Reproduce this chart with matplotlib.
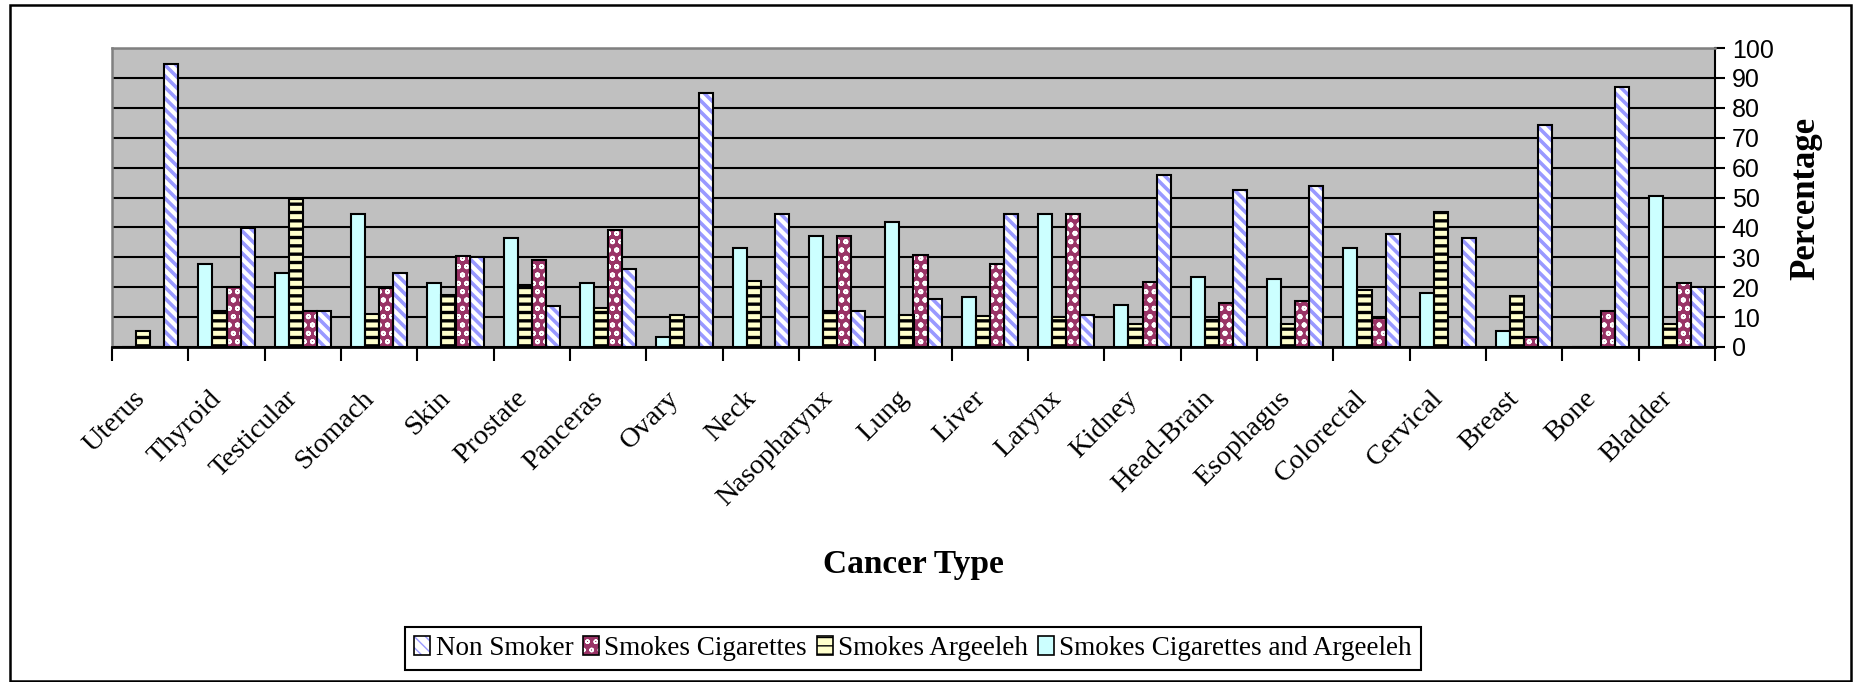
import matplotlib
matplotlib.use("Agg")
import matplotlib.pyplot as plt
import numpy as np
from matplotlib.patches import Patch, Rectangle
from matplotlib.legend_handler import HandlerTuple

# ---- data (percent of patients in each smoking group, by cancer type) ----
categories = ["Uterus", "Thyroid", "Testicular", "Stomach", "Skin", "Prostate",
              "Panceras", "Ovary", "Neck", "Nasopharynx", "Lung", "Liver",
              "Larynx", "Kidney", "Head-Brain", "Esophagus", "Colorectal",
              "Cervical", "Breast", "Bone", "Bladder"]

cig_and_argeeleh = [0, 27.6, 24.8, 44.6, 21.3, 36.3, 21.3, 3.2, 33.0, 37.0, 41.7,
                    16.8, 44.6, 14.1, 23.4, 22.9, 33.0, 18.1, 5.2, 0, 50.6]
argeeleh = [5.4, 12.1, 49.4, 11.0, 17.4, 20.8, 13.0, 10.8, 22.2, 12.1, 10.8,
            10.3, 10.2, 7.7, 9.1, 7.7, 19.0, 45.1, 16.9, 0, 7.6]
cigarettes = [0, 20.1, 11.9, 19.6, 30.4, 29.1, 39.1, 0, 0, 37.0, 30.9,
              27.6, 44.6, 21.6, 14.8, 15.4, 9.7, 0, 3.4, 11.9, 21.3]
non_smoker = [94.6, 39.8, 11.9, 24.8, 30.2, 13.6, 26.2, 85.1, 44.6, 11.9, 16.1,
              44.6, 10.8, 57.4, 52.6, 54.0, 37.8, 36.3, 74.1, 87.0, 20.2]

series_labels = ["Smokes Cigarettes and Argeeleh", "Smokes Argeeleh",
                 "Smokes Cigarettes", "Non Smoker"]
y_ticks = list(range(0, 101, 10))

# ---- styling ----
SERIF = 'Liberation Serif'
SANS = 'Liberation Sans'

styles = [  # face, hatch, hatch colour, hatch line width
    ('#CCFFFF', None, '#CCFFFF', 1.0),
    ('#FFFFCC', '--', 'black', 2.4),
    ('#993366', 'oo', 'white', 1.3),
    ('white', '\\\\\\', '#9999FF', 2.6),
]

W, H = 1854, 682
fig = plt.figure(figsize=(W / 100, H / 100), dpi=100)
ax = fig.add_axes([112 / W, 1 - 347 / H, (1715 - 112) / W, (347 - 48) / H])
ax.set_facecolor('#C0C0C0')
ax.set_axisbelow(True)
ax.yaxis.grid(True, color='black', lw=1.5)

x = np.arange(len(categories))
bw = 0.1835
values = [cig_and_argeeleh, argeeleh, cigarettes, non_smoker]
legend_handles = {}
for k, (vals, (face, hatch, hcol, hlw), lab) in enumerate(zip(values, styles, series_labels)):
    pos = x + (k - 1.5) * bw
    with plt.rc_context({'hatch.linewidth': hlw}):
        bars = ax.bar(pos, vals, width=bw, color=face, edgecolor=hcol,
                      hatch=hatch, linewidth=0, zorder=2)
        h1 = Patch(facecolor=face, edgecolor=hcol, hatch=hatch, linewidth=0)
    for b in list(bars) + [h1]:
        if hasattr(b, 'set_hatch_linewidth'):
            b.set_hatch_linewidth(hlw)
    ax.bar(pos, vals, width=bw, fill=False, edgecolor='black', linewidth=1.5,
           zorder=3)
    h2 = Patch(fill=False, edgecolor='black', linewidth=1.2)
    legend_handles[lab] = (h1, h2)

ax.set_xlim(-0.5, len(categories) - 0.5)
ax.set_ylim(0, 100)

# y axis on the right
ax.yaxis.tick_right()
ax.set_yticks(y_ticks)
ax.set_yticklabels([str(v) for v in y_ticks], family=SANS, fontsize=18)
ax.tick_params(axis='y', direction='out', length=7, width=1.5, pad=5)

# x axis: labels at group centres, tick marks between groups
ax.set_xticks(x)
ax.set_xticklabels(categories, rotation=45, ha='right', va='top',
                   family=SERIF, fontsize=20.5)
ax.tick_params(axis='x', which='major', length=0, pad=28)
ax.set_xticks(np.arange(-0.5, len(categories), 1.0), minor=True)
ax.tick_params(axis='x', which='minor', length=10, width=1.5, direction='out')

for side in ('top', 'left'):
    ax.spines[side].set_color('#808080')
    ax.spines[side].set_linewidth(1.8)
ax.spines['right'].set_color('black')
ax.spines['right'].set_linewidth(1.5)
ax.spines['bottom'].set_color('black')
ax.spines['bottom'].set_linewidth(2)

fig.text(913 / W, 1 - 565 / H, 'Cancer Type', ha='center', va='center',
         family=SERIF, fontsize=24, fontweight='bold')
fig.text(1806 / W, 1 - 198 / H, 'Percentage', ha='center', va='center',
         rotation=90, family=SERIF, fontsize=25, fontweight='bold')

order = ["Non Smoker", "Smokes Cigarettes", "Smokes Argeeleh",
         "Smokes Cigarettes and Argeeleh"]
leg = fig.legend([legend_handles[o] for o in order], order,
                 handler_map={tuple: HandlerTuple(ndivide=1, pad=0)},
                 loc='center', bbox_to_anchor=(913 / W, 1 - 648.5 / H), ncol=4,
                 frameon=True, fancybox=False, framealpha=1, edgecolor='black',
                 prop={'family': SERIF, 'size': 19.5}, handlelength=0.6,
                 handleheight=0.7, handletextpad=0.2, columnspacing=0.35,
                 borderpad=0.35)
leg.get_frame().set_linewidth(1.5)

# outer frame around the whole figure
fig.add_artist(Rectangle((10 / W, 1 / H), (1851 - 10) / W, (681 - 5) / H,
                         transform=fig.transFigure, fill=False,
                         edgecolor='black', linewidth=1.8))

fig.savefig('out.png', dpi=100)
